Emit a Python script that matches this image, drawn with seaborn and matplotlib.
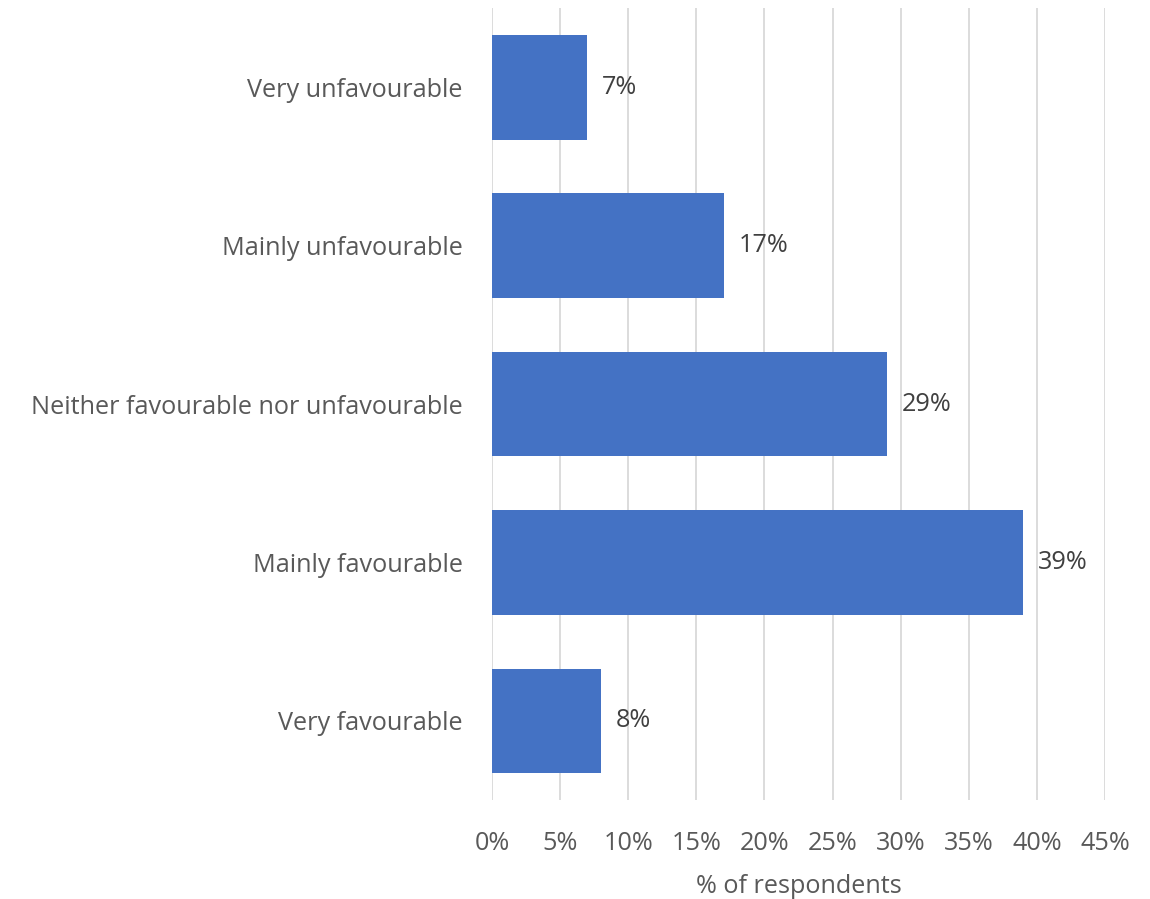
import matplotlib
matplotlib.use("Agg")
import matplotlib.pyplot as plt
import seaborn as sns
import pandas as pd

categories = [
    "Very unfavourable",
    "Mainly unfavourable",
    "Neither favourable nor unfavourable",
    "Mainly favourable",
    "Very favourable",
]
values = [7, 17, 29, 39, 8]
x_ticks = [0, 5, 10, 15, 20, 25, 30, 35, 40, 45]

df = pd.DataFrame({"category": categories, "pct": values})

sns.set_theme(style="white")
plt.rcParams["font.family"] = ["Open Sans", "DejaVu Sans"]

text_color = "#595959"
fs = 18.2
fig = plt.figure(figsize=(11.5, 8.99), dpi=100)
ax = fig.add_axes([0.4278, 0.1101, 0.5331, 0.8809])

sns.barplot(data=df, x="pct", y="category", color="#4472C4", saturation=1,
            width=0.66, orient="h", ax=ax, edgecolor="#4472C4", linewidth=0)

ax.set_xlim(0, 45)
ax.set_ylim(4.5, -0.5)
ax.set_xticks(x_ticks)
ax.set_xticklabels([f"{t}%" for t in x_ticks])
ax.grid(axis="x", color="#d9d9d9", linewidth=1.3)
ax.set_axisbelow(True)
for s in ax.spines.values():
    s.set_visible(False)
ax.tick_params(axis="both", length=0, labelsize=fs, labelcolor=text_color)
ax.tick_params(axis="x", pad=22)
ax.tick_params(axis="y", pad=21)
ax.set_ylabel("")
ax.set_xlabel("% of respondents", fontsize=fs, color=text_color, labelpad=13)

for i, v in enumerate(values):
    ax.text(v + 1.1, i, f"{v}%", va="center", ha="left", fontsize=fs, color="#404040")

fig.savefig("out.png", dpi=100, facecolor="white")
